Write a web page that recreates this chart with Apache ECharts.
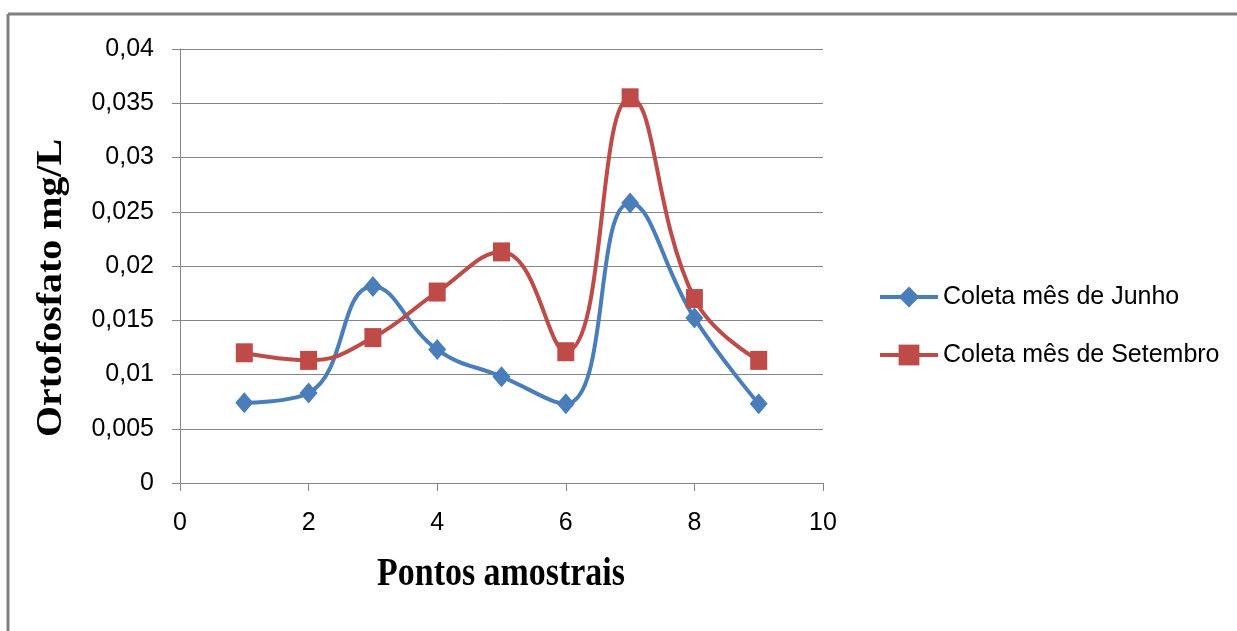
<!DOCTYPE html>
<html>
<head>
<meta charset="utf-8">
<script src="https://cdn.jsdelivr.net/npm/echarts@6/dist/echarts.min.js"></script>
<style>
html,body{margin:0;padding:0;background:#fff;}
#chart{width:1237px;height:631px;}
</style>
</head>
<body>
<div id="chart"></div>
<script>
const pontos = [1, 2, 3, 4, 5, 6, 7, 8, 9];
const junho = [0.0074, 0.0083, 0.0181, 0.0123, 0.0098, 0.0073, 0.0258, 0.0152, 0.0073];
const setembro = [0.0120, 0.0113, 0.0134, 0.0176, 0.0213, 0.0121, 0.0355, 0.0170, 0.0113];
const seriesNames = ['Coleta mês de Junho', 'Coleta mês de Setembro'];
const xTitle = 'Pontos amostrais';
const yTitle = 'Ortofosfato mg/L';

const gridColor = '#868686';
const labelFont = { fontFamily: '"Liberation Sans", Arial, sans-serif', fontSize: 25, color: '#000' };

const chart = echarts.init(document.getElementById('chart'), null, { renderer: 'canvas' });
chart.setOption({
  animation: false,
  backgroundColor: '#fff',
  grid: { left: 180, right: 414, top: 49, bottom: 148, containLabel: false },
  xAxis: {
    type: 'value', min: 0, max: 10, interval: 2,
    axisLine: { show: true, onZero: false, lineStyle: { color: gridColor, width: 1 } },
    axisTick: { show: true, length: 8, lineStyle: { color: gridColor } },
    splitLine: { show: false },
    axisLabel: Object.assign({ margin: 28 }, labelFont)
  },
  yAxis: {
    type: 'value', min: 0, max: 0.04, interval: 0.005,
    axisLine: { show: true, lineStyle: { color: gridColor, width: 1 } },
    axisTick: { show: true, length: 8, lineStyle: { color: gridColor } },
    splitLine: { show: true, lineStyle: { color: gridColor, width: 1 } },
    axisLabel: Object.assign({
      margin: 26,
      formatter: v => String(+v.toFixed(3)).replace('.', ',')
    }, labelFont)
  },
  legend: {
    orient: 'vertical', left: 878, top: 284, itemGap: 32, padding: 0,
    itemWidth: 58, itemHeight: 26,
    lineStyle: { width: 4 },
    textStyle: { fontFamily: '"Liberation Sans", Arial, sans-serif', fontSize: 25, color: '#000', lineHeight: 26, padding: [0, 0, 0, 0] },
    data: seriesNames
  },
  series: [
    {
      name: seriesNames[0], type: 'line', smooth: 0.45,
      data: pontos.map((p, i) => [p, junho[i]]),
      symbol: 'diamond', symbolSize: [18, 21],
      lineStyle: { color: '#4a7ebb', width: 4 },
      itemStyle: { color: '#4a7ebb' }
    },
    {
      name: seriesNames[1], type: 'line', smooth: 0.45,
      data: pontos.map((p, i) => [p, setembro[i]]),
      symbol: 'rect', symbolSize: [17, 19],
      lineStyle: { color: '#be4b48', width: 4 },
      itemStyle: { color: '#be4b48' }
    }
  ],
  graphic: [
    { type: 'line', shape: { x1: 8, y1: 14, x2: 1237, y2: 14 }, style: { stroke: '#808080', lineWidth: 3 } },
    { type: 'line', shape: { x1: 8, y1: 14, x2: 8, y2: 631 }, style: { stroke: '#808080', lineWidth: 3 } },
    {
      type: 'text', x: 501, y: 575, scaleX: 0.87,
      style: { text: xTitle, fontFamily: '"Liberation Serif", "Times New Roman", serif', fontWeight: 'bold', fontSize: 39, fill: '#000', textAlign: 'center', textVerticalAlign: 'middle' }
    },
    {
      type: 'text', x: 52, y: 288, rotation: Math.PI / 2, scaleX: 1.14,
      style: { text: yTitle, fontFamily: '"Liberation Serif", "Times New Roman", serif', fontWeight: 'bold', fontSize: 35, fill: '#000', textAlign: 'center', textVerticalAlign: 'middle' }
    }
  ]
});
</script>
</body>
</html>
